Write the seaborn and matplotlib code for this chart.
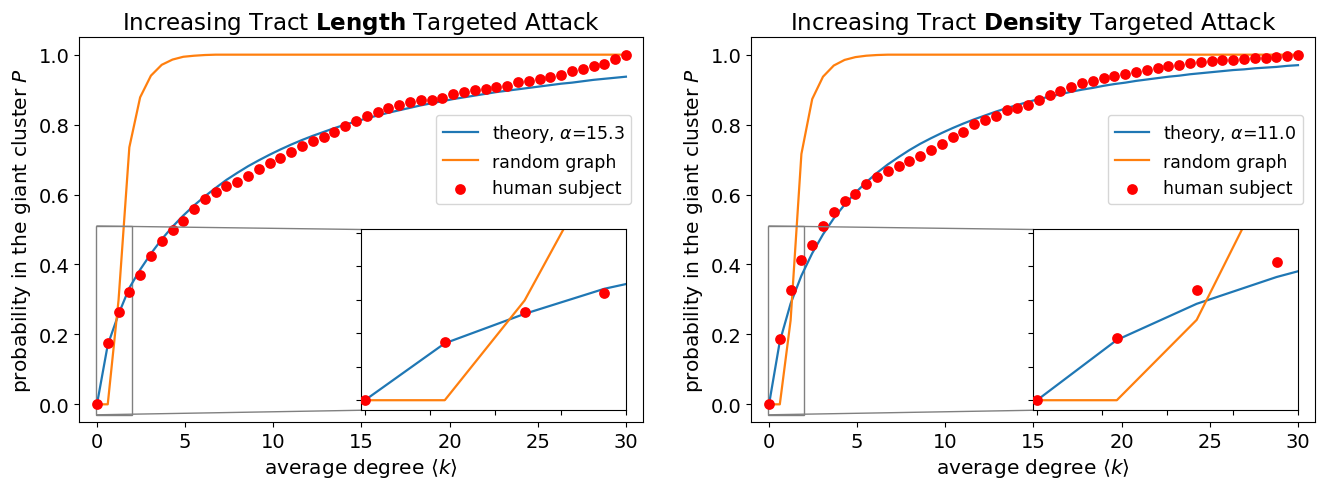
import numpy as np
import pandas as pd
import seaborn as sns
import matplotlib.pyplot as plt
from mpl_toolkits.axes_grid1.inset_locator import mark_inset

# average degree grid (50 samples from 0 to 30)
degree = np.linspace(0, 30, 50)

# --- Tract length attack ---
length_theory = [0.0, 0.170, 0.258, 0.333, 0.385, 0.431, 0.472, 0.508, 0.540, 0.569,
                 0.595, 0.619, 0.642, 0.662, 0.681, 0.698, 0.714, 0.729, 0.743, 0.756,
                 0.768, 0.779, 0.790, 0.800, 0.809, 0.818, 0.826, 0.834, 0.841, 0.848,
                 0.855, 0.861, 0.867, 0.873, 0.878, 0.883, 0.888, 0.893, 0.897, 0.901,
                 0.905, 0.909, 0.913, 0.917, 0.920, 0.924, 0.928, 0.931, 0.934, 0.937]
length_random = [0.0, 0.0, 0.298, 0.735, 0.878, 0.940, 0.971, 0.986, 0.994, 0.997,
                 0.999, 1.0, 1.0, 1.0, 1.0, 1.0, 1.0, 1.0, 1.0, 1.0,
                 1.0, 1.0, 1.0, 1.0, 1.0, 1.0, 1.0, 1.0, 1.0, 1.0,
                 1.0, 1.0, 1.0, 1.0, 1.0, 1.0, 1.0, 1.0, 1.0, 1.0,
                 1.0, 1.0, 1.0, 1.0, 1.0, 1.0, 1.0, 1.0, 1.0, 1.0]
length_human = [0.0, 0.175, 0.263, 0.320, 0.370, 0.423, 0.466, 0.498, 0.523, 0.558,
                0.587, 0.608, 0.624, 0.637, 0.654, 0.672, 0.690, 0.705, 0.721, 0.738,
                0.754, 0.765, 0.778, 0.795, 0.810, 0.826, 0.836, 0.847, 0.856, 0.864,
                0.870, 0.871, 0.875, 0.888, 0.892, 0.898, 0.903, 0.907, 0.911, 0.921,
                0.926, 0.930, 0.935, 0.942, 0.953, 0.959, 0.967, 0.974, 0.988, 1.000]

# --- Tract density attack ---
density_theory = [0.0, 0.180, 0.288, 0.368, 0.432, 0.486, 0.532, 0.571, 0.605, 0.635,
                  0.662, 0.686, 0.707, 0.727, 0.745, 0.761, 0.776, 0.790, 0.803, 0.815,
                  0.826, 0.837, 0.847, 0.856, 0.865, 0.873, 0.880, 0.887, 0.894, 0.900,
                  0.905, 0.911, 0.916, 0.920, 0.925, 0.929, 0.933, 0.937, 0.940, 0.944,
                  0.947, 0.950, 0.953, 0.956, 0.958, 0.961, 0.963, 0.965, 0.968, 0.970]
density_random = [0.0, 0.0, 0.240, 0.716, 0.873, 0.937, 0.969, 0.985, 0.993, 0.997,
                  0.999, 1.0, 1.0, 1.0, 1.0, 1.0, 1.0, 1.0, 1.0, 1.0,
                  1.0, 1.0, 1.0, 1.0, 1.0, 1.0, 1.0, 1.0, 1.0, 1.0,
                  1.0, 1.0, 1.0, 1.0, 1.0, 1.0, 1.0, 1.0, 1.0, 1.0,
                  1.0, 1.0, 1.0, 1.0, 1.0, 1.0, 1.0, 1.0, 1.0, 1.0]
density_human = [0.0, 0.186, 0.328, 0.413, 0.456, 0.509, 0.551, 0.582, 0.602, 0.630,
                 0.651, 0.666, 0.681, 0.696, 0.710, 0.727, 0.744, 0.765, 0.778, 0.803,
                 0.814, 0.826, 0.842, 0.848, 0.857, 0.871, 0.885, 0.896, 0.907, 0.918,
                 0.926, 0.932, 0.940, 0.946, 0.951, 0.956, 0.961, 0.967, 0.971, 0.976,
                 0.979, 0.982, 0.984, 0.986, 0.988, 0.990, 0.991, 0.993, 0.996, 1.000]

panels = [("Length", "15.3", length_theory, length_random, length_human),
          ("Density", "11.0", density_theory, density_random, density_human)]


def draw_series(a, df, alpha, with_labels):
    sns.lineplot(data=df, x="k", y="theory", ax=a, color="#1f77b4", lw=1.6,
                 label=r"theory, $\alpha$=" + alpha if with_labels else None, legend=False)
    sns.lineplot(data=df, x="k", y="random", ax=a, color="#ff7f0e", lw=1.6,
                 label="random graph" if with_labels else None, legend=False)
    sns.scatterplot(data=df, x="k", y="human", ax=a, color="red", s=60, linewidth=0,
                    label="human subject" if with_labels else None, legend=False, zorder=3)


def plot_panel(ax, word, alpha, theory, rand, human):
    df = pd.DataFrame({"k": degree, "theory": theory, "random": rand, "human": human})
    draw_series(ax, df, alpha, True)
    ax.set_xlim(-1.0, 30.95)
    ax.set_ylim(-0.05, 1.05)
    ax.set_xlabel(r"average degree $\langle k \rangle$", fontsize=14.5)
    ax.set_ylabel(r"probability in the giant cluster $P$", fontsize=14.5)
    ax.set_title("Increasing Tract $\\bf{" + word + "}$ Targeted Attack", fontsize=16.6)
    ax.tick_params(labelsize=14)
    ax.legend(loc="upper right", bbox_to_anchor=(0.98, 0.798), borderaxespad=0, fontsize=12.5)

    axins = ax.inset_axes([0.5, 0.03, 0.47, 0.47])
    draw_series(axins, df, alpha, False)
    axins.set_xlim(-0.03, 2.0)
    axins.set_ylim(-0.03, 0.51)
    axins.set_xlabel("")
    axins.set_ylabel("")
    axins.tick_params(labelleft=False, labelbottom=False)
    mark_inset(ax, axins, loc1=2, loc2=3, fc="none", ec="0.5")


fig, axes = plt.subplots(1, 2, figsize=(13.22, 4.81), dpi=100)
fig.subplots_adjust(left=0.060, right=0.9945, bottom=0.121, top=0.9206, wspace=0.193)
for ax, (word, alpha, theory, rand, human) in zip(axes, panels):
    plot_panel(ax, word, alpha, theory, rand, human)

plt.savefig("out.png")
